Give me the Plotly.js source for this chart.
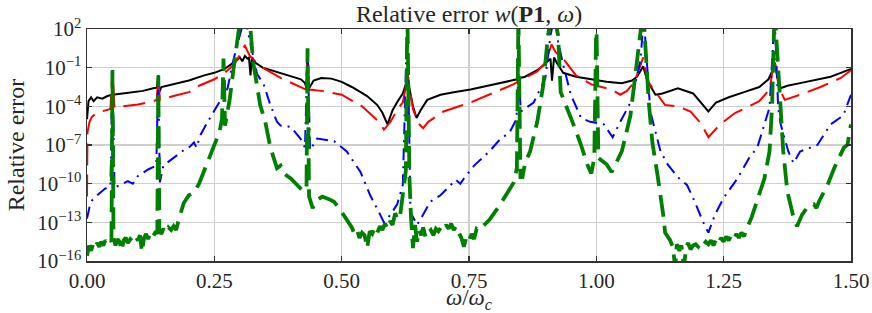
<!DOCTYPE html>
<html>
<head>
<meta charset="utf-8">
<script src="https://cdn.plot.ly/plotly-3.0.1.min.js"></script>
<style>html,body{margin:0;padding:0;background:#fff;}#chart{width:872px;height:313px;}</style>
</head>
<body>
<div id="chart"></div>
<script>
// x = omega/omega_c ; values stored as log10(relative error)
const blackX = [0,0.003,0.008,0.013,0.02,0.03,0.04,0.05,0.07,0.09,0.11,0.13,0.137,0.14,0.142,0.146,0.17,0.2,0.23,0.25,0.27,0.285,0.295,0.3,0.305,0.31,0.315,0.318,0.321,0.324,0.33,0.345,0.37,0.4,0.42,0.428,0.431,0.433,0.436,0.445,0.46,0.48,0.5,0.52,0.55,0.57,0.58,0.59,0.6,0.61,0.62,0.626,0.629,0.633,0.64,0.647,0.655,0.668,0.694,0.72,0.753,0.798,0.837,0.845,0.847,0.85,0.86,0.884,0.897,0.91,0.913,0.917,0.922,0.935,0.96,0.99,1.02,1.05,1.07,1.08,1.087,1.092,1.1,1.116,1.13,1.16,1.19,1.21,1.22,1.235,1.26,1.29,1.32,1.338,1.345,1.35,1.356,1.362,1.375,1.4,1.43,1.46,1.48,1.5];
const blackLog = [-5.0,-3.6,-3.3,-3.6,-3.3,-3.4,-3.2,-3.1,-3.0,-2.9,-2.8,-2.6,-2.55,-1.6,-2.9,-2.5,-2.3,-2.0,-1.6,-1.4,-1.1,-0.7,-0.4,-0.2,-0.5,-0.1,-0.3,-0.2,-1.6,-0.2,-0.6,-1.0,-1.3,-1.6,-1.9,-2.2,-2.6,-1.0,-2.6,-2.0,-1.8,-1.85,-2.1,-2.5,-3.2,-3.9,-4.5,-5.4,-4.3,-3.6,-3.0,-2.3,-1.6,-2.6,-4.0,-4.9,-4.3,-3.5,-3.1,-2.9,-2.7,-2.3,-2.0,-1.9,-2.3,-1.8,-1.7,-1.2,-0.8,-0.3,-2.0,-0.2,-0.6,-1.4,-1.7,-1.9,-2.1,-2.2,-2.0,-1.7,-1.2,-0.9,-2.0,-3.1,-3.0,-2.6,-3.0,-3.9,-4.4,-3.7,-3.3,-2.9,-2.5,-1.9,-1.3,-0.6,-1.8,-2.6,-2.4,-2.2,-1.95,-1.7,-1.4,-1.1];

const redX = [0,0.001,0.005,0.01,0.02,0.035,0.046,0.05,0.054,0.07,0.1,0.13,0.137,0.14,0.143,0.17,0.2,0.22,0.25,0.27,0.285,0.295,0.303,0.31,0.315,0.32,0.33,0.345,0.38,0.42,0.43,0.433,0.436,0.46,0.5,0.54,0.573,0.583,0.596,0.61,0.62,0.626,0.629,0.633,0.64,0.65,0.66,0.67,0.7,0.753,0.79,0.837,0.85,0.884,0.9,0.912,0.92,0.935,0.96,0.99,1.03,1.047,1.06,1.075,1.085,1.092,1.1,1.116,1.135,1.16,1.185,1.205,1.22,1.243,1.273,1.3,1.32,1.34,1.35,1.358,1.37,1.4,1.44,1.48,1.5];
const redLog = [-11.0,-6.0,-5.2,-4.8,-4.5,-4.3,-4.2,-1.2,-4.1,-4.0,-3.85,-3.6,-3.5,-1.6,-3.5,-3.2,-2.9,-2.4,-1.9,-1.4,-0.9,-0.4,0.3,0.7,0.3,-0.1,-0.5,-1.0,-1.8,-2.5,-2.7,0.5,-2.7,-2.8,-3.1,-4.0,-5.2,-5.8,-5.2,-4.2,-3.7,-2.5,-1.2,-2.5,-4.2,-5.3,-5.7,-5.2,-4.4,-3.7,-3.1,-2.3,-2.0,-1.3,-0.6,0.8,0.2,-0.3,-1.6,-2.3,-2.7,-3.1,-2.8,-2.1,-1.0,-0.2,-2.0,-2.9,-3.9,-4.0,-4.4,-5.3,-6.4,-5.4,-4.5,-4.0,-3.6,-2.7,-0.3,-2.5,-3.5,-3.1,-2.5,-1.8,-1.2];

const blueX = [0,0.005,0.01,0.02,0.035,0.046,0.05,0.054,0.065,0.08,0.09,0.1,0.12,0.136,0.14,0.143,0.15,0.17,0.19,0.203,0.21,0.215,0.223,0.237,0.256,0.276,0.288,0.3,0.31,0.32,0.334,0.347,0.36,0.373,0.38,0.4,0.419,0.428,0.433,0.438,0.452,0.485,0.51,0.537,0.556,0.573,0.583,0.596,0.609,0.62,0.629,0.635,0.648,0.66,0.674,0.694,0.71,0.724,0.733,0.74,0.76,0.79,0.81,0.83,0.843,0.847,0.852,0.877,0.9,0.91,0.918,0.925,0.935,0.95,0.97,0.988,1.015,1.032,1.047,1.07,1.087,1.093,1.106,1.126,1.14,1.16,1.178,1.19,1.21,1.22,1.233,1.25,1.277,1.3,1.316,1.33,1.34,1.35,1.357,1.362,1.377,1.387,1.4,1.434,1.46,1.485,1.5];
const blueLog = [-12.7,-11.8,-11.3,-10.9,-10.4,-10.2,-1.2,-10.3,-10.1,-9.8,-10.0,-9.4,-8.9,-8.6,-1.6,-9.9,-8.6,-8.0,-7.4,-7.1,-6.8,-7.2,-6.2,-5.2,-3.9,-2.6,-0.3,1.5,3.0,1.0,-1.5,-2.3,-3.9,-5.2,-5.5,-5.6,-6.5,-7.2,0.5,-7.4,-6.5,-6.7,-7.5,-9.1,-10.9,-12.2,-13.0,-12.4,-11.6,-10.1,3.0,-12.2,-13.2,-12.4,-11.4,-10.9,-10.3,-9.7,-10.0,-9.6,-8.6,-7.5,-6.6,-6.0,-5.0,-1.5,-4.4,-3.7,-1.8,1.5,3.0,1.0,-0.8,-3.1,-4.9,-5.2,-5.4,-6.4,-5.2,-3.5,-0.3,3.0,-4.4,-7.5,-8.5,-9.5,-10.1,-11.1,-13.0,-13.8,-12.4,-11.1,-9.6,-8.0,-7.2,-5.5,-4.1,3.0,-4.1,-5.4,-7.5,-8.4,-7.5,-7.0,-5.4,-4.7,-3.1];

const greenX = [0,0.004,0.008,0.012,0.016,0.02,0.024,0.028,0.032,0.036,0.04,0.044,0.048,0.05,0.052,0.056,0.06,0.064,0.068,0.072,0.076,0.08,0.085,0.09,0.095,0.1,0.104,0.108,0.112,0.116,0.12,0.125,0.13,0.135,0.138,0.14,0.142,0.146,0.15,0.155,0.16,0.165,0.17,0.175,0.18,0.19,0.2,0.21,0.22,0.23,0.24,0.25,0.26,0.265,0.268,0.271,0.28,0.288,0.295,0.3,0.31,0.32,0.326,0.33,0.34,0.35,0.36,0.373,0.38,0.386,0.4,0.415,0.425,0.431,0.433,0.436,0.443,0.45,0.462,0.475,0.485,0.5,0.51,0.52,0.525,0.53,0.535,0.54,0.545,0.55,0.555,0.56,0.565,0.57,0.575,0.58,0.585,0.59,0.595,0.6,0.605,0.61,0.615,0.62,0.626,0.629,0.633,0.636,0.64,0.644,0.648,0.652,0.656,0.66,0.665,0.67,0.675,0.68,0.685,0.69,0.695,0.7,0.705,0.71,0.715,0.72,0.725,0.73,0.735,0.74,0.745,0.75,0.755,0.76,0.765,0.77,0.78,0.79,0.81,0.825,0.838,0.844,0.847,0.851,0.855,0.86,0.87,0.884,0.896,0.905,0.915,0.925,0.93,0.955,0.97,0.982,0.99,0.996,1.0,1.004,1.02,1.03,1.05,1.067,1.08,1.092,1.103,1.11,1.12,1.127,1.132,1.135,1.14,1.145,1.15,1.155,1.158,1.163,1.167,1.172,1.176,1.18,1.185,1.19,1.195,1.2,1.205,1.21,1.215,1.22,1.225,1.23,1.235,1.24,1.245,1.25,1.255,1.26,1.265,1.27,1.275,1.28,1.285,1.29,1.295,1.305,1.315,1.33,1.34,1.345,1.35,1.36,1.364,1.367,1.375,1.387,1.394,1.404,1.415,1.427,1.432,1.437,1.454,1.467,1.486,1.493,1.5];
const greenLog = [-15.6,-14.8,-15.2,-14.7,-15.0,-14.6,-14.9,-14.5,-14.8,-14.4,-14.6,-14.3,-14.5,-1.2,-14.2,-14.8,-14.3,-14.5,-15.2,-14.4,-14.2,-14.6,-14.3,-14.5,-14.1,-14.4,-14.0,-15.3,-14.2,-13.9,-14.3,-13.8,-14.1,-13.7,-13.9,-1.6,-13.6,-13.9,-13.5,-13.8,-13.4,-13.6,-13.3,-13.6,-12.8,-11.5,-10.9,-10.7,-10.0,-9.0,-8.0,-7.0,-6.0,-5.0,-0.3,-5.5,-3.5,-1.0,0.7,2.5,3.5,2.5,-0.5,-1.6,-3.9,-5.2,-7.2,-8.8,-8.6,-9.2,-9.6,-10.2,-10.6,-10.3,0.5,-11.0,-11.9,-11.3,-11.0,-11.2,-11.4,-12.2,-12.8,-13.4,-13.9,-13.6,-14.2,-13.8,-14.0,-15.0,-13.7,-13.9,-13.4,-13.8,-13.3,-13.6,-13.1,-13.5,-12.9,-13.2,-12.3,-12.8,-12.4,-11.0,-9.0,3.5,-9.5,-12.5,-15.0,-13.2,-14.5,-13.6,-14.0,-13.4,-14.2,-13.8,-13.6,-14.0,-13.5,-13.7,-13.4,-13.6,-13.2,-13.5,-13.1,-13.6,-13.3,-13.8,-14.2,-14.9,-14.1,-14.4,-13.9,-14.3,-13.5,-13.6,-13.2,-12.8,-11.7,-10.8,-9.9,-8.8,3.0,-9.5,-9.5,-8.4,-7.5,-5.2,-2.3,1.5,3.5,1.5,-2.9,-5.4,-7.0,-8.5,-9.2,-8.0,3.0,-8.0,-8.5,-9.1,-7.5,-4.7,-0.8,3.5,-3.7,-6.8,-9.3,-11.1,-12.6,-13.8,-14.1,-14.4,-14.9,-16.5,-14.7,-15.2,-14.8,-16.5,-15.0,-14.6,-15.1,-14.8,-14.7,-14.9,-14.6,-14.8,-14.5,-14.7,-14.4,-14.8,-14.3,-14.6,-14.2,-14.5,-14.1,-14.4,-14.0,-14.3,-13.9,-14.2,-13.8,-14.1,-13.5,-12.6,-11.4,-9.6,-7.5,-4.0,3.5,-2.9,-5.4,-7.5,-10.6,-12.6,-13.3,-12.4,-11.8,-11.6,-11.9,-11.4,-10.1,-8.8,-7.2,-7.0,-5.4];

const xTickVals = [0,0.25,0.5,0.75,1.0,1.25,1.5];
const xTickText = ['0.00','0.25','0.50','0.75','1.00','1.25','1.50'];
const yTickExp = [2,-1,-4,-7,-10,-13,-16];

const toVal = a => a.map(v => Math.pow(10, v));
const serif = '"Liberation Serif", "DejaVu Serif", serif';
const txt = '#262626';

const traces = [
  {x: blackX, y: toVal(blackLog), mode: 'lines', line: {color: '#000000', width: 2}},
  {x: redX, y: toVal(redLog), mode: 'lines', line: {color: '#ff0000', width: 2, dash: '22px,9px'}},
  {x: blueX, y: toVal(blueLog), mode: 'lines', line: {color: '#0000ff', width: 2, dash: '12px,6px,2px,6px'}},
  {x: greenX, y: toVal(greenLog), mode: 'lines', line: {color: '#008000', width: 3.8, dash: '22px,9px'}}
];

const layout = {
  width: 872, height: 313,
  margin: {l: 87, r: 21, t: 29, b: 52},
  paper_bgcolor: '#ffffff', plot_bgcolor: '#ffffff',
  showlegend: false,
  font: {family: serif, size: 21, color: txt},
  title: {text: 'Relative error <i>w</i>(<b>P1</b>, <i>ω</i>)', x: 0.5, xref: 'paper', y: 0.955, yref: 'container', yanchor: 'middle', font: {family: serif, size: 24, color: txt}},
  xaxis: {
    range: [0, 1.5], tickvals: xTickVals, ticktext: xTickText,
    showgrid: true, gridcolor: '#cfcfcf', gridwidth: 1.3,
    zeroline: false, showline: true, linecolor: '#333', linewidth: 1.5, mirror: 'ticks',
    ticks: 'inside', ticklen: 5, tickcolor: '#333', tickwidth: 1.3,
    tickfont: {family: serif, size: 21, color: txt},
    title: {text: '<i>ω</i>/<i>ω</i><sub><i>c</i></sub>', standoff: 0, font: {family: serif, size: 23, color: txt}}
  },
  yaxis: {
    type: 'log', range: [-16, 2],
    tickvals: yTickExp.map(e => Math.pow(10, e)),
    ticktext: yTickExp.map(e => '10<sup>' + (e < 0 ? '−' + (-e) : e) + '</sup>'),
    showgrid: true, gridcolor: '#cfcfcf', gridwidth: 1.3,
    zeroline: false, showline: true, linecolor: '#333', linewidth: 1.5, mirror: 'ticks',
    ticks: 'inside', ticklen: 5, tickcolor: '#333', tickwidth: 1.3,
    tickfont: {family: serif, size: 21, color: txt},
    title: {text: 'Relative error', standoff: 6, font: {family: serif, size: 24, color: txt}}
  }
};

Plotly.newPlot('chart', traces, layout, {staticPlot: true, displayModeBar: false});
</script>
</body>
</html>
